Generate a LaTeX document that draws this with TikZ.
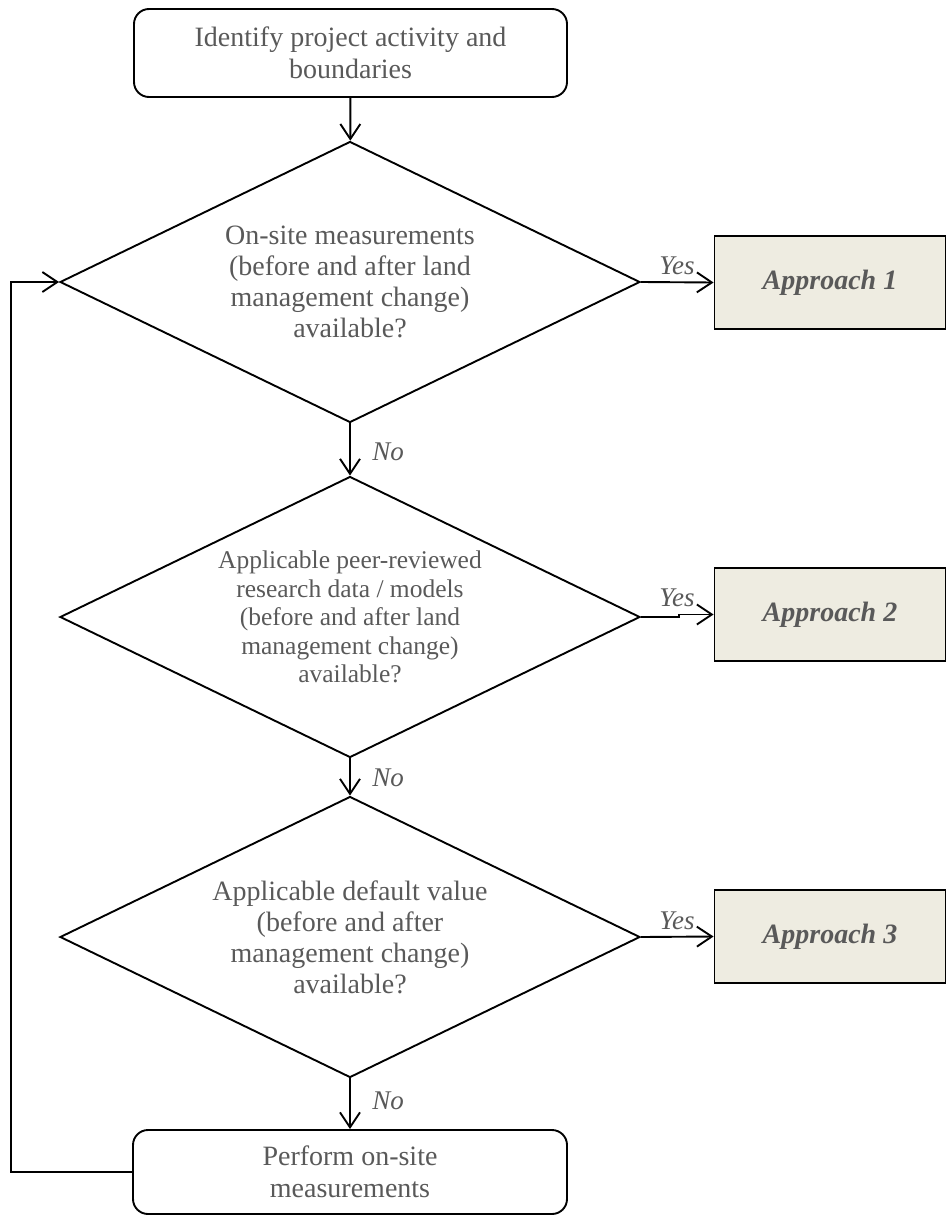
\documentclass[tikz,border=0pt]{standalone}
\usepackage{fontspec}
\setmainfont{Liberation Serif}
\usetikzlibrary{arrows.meta,shapes.geometric,calc}
\definecolor{txtgray}{RGB}{89,89,89}
\definecolor{apfill}{RGB}{238,236,225}
\tikzset{
  line/.style={line width=1.9pt, draw=black},
  arr/.style={line, -{Straight Barb[length=15pt,width=20pt,line width=1.9pt]}},
  roundbox/.style={line, rounded corners=15pt, text=txtgray, align=center, inner sep=0pt,
    font=\fontsize{28}{32}\selectfont},
  decision/.style={line, diamond, aspect=2.07, inner sep=0pt, text=txtgray, align=center,
    minimum width=580pt, minimum height=281pt},
  approach/.style={line, fill=apfill, text=txtgray, inner sep=0pt,
    font=\fontsize{28}{32}\selectfont\bfseries\itshape},
  lbl/.style={text=txtgray, inner sep=0pt, font=\fontsize{27}{30}\selectfont\itshape}
}
\begin{document}
\begin{tikzpicture}[x=1pt,y=-1pt]
\useasboundingbox (0,0) rectangle (947,1217);
% start box
\node[roundbox, minimum width=433pt, minimum height=88pt] (start) at (350.5,53) {Identify project activity and\\boundaries};
% decisions
\node[decision, font=\fontsize{28}{31}\selectfont] (d1) at (350,282) {On-site measurements\\(before and after land\\management change)\\available?};
\node[decision, font=\fontsize{25.5}{28.5}\selectfont] (d2) at (350,617) {Applicable peer-reviewed\\research data / models\\(before and after land\\management change)\\available?};
\node[decision, font=\fontsize{28}{31}\selectfont] (d3) at (350,937) {Applicable default value\\(before and after\\management change)\\available?};
% end box
\node[roundbox, minimum width=434pt, minimum height=84pt] (perf) at (350,1172) {Perform on-site\\measurements};
% approaches
\node[approach, minimum width=231pt, minimum height=93pt] (a1) at (830,282.5) {Approach 1};
\node[approach, minimum width=231pt, minimum height=93pt] (a2) at (830,614.5) {Approach 2};
\node[approach, minimum width=231pt, minimum height=93pt] (a3) at (830,936.5) {Approach 3};
% vertical flow
\draw[arr] (start) -- (d1);
\draw[arr] (d1) -- (d2);
\draw[arr] (d2) -- (d3);
\draw[arr] (d3) -- (perf);
% yes arrows
\draw[arr] (d1.east) -- (a1.west);
\draw[arr] (d2.east) -- ++(38,0) |- (a2.west);
\draw[arr] (d3.east) -- (a3.west);
% loop back
\draw[arr] (perf.west) -- ++(-121,0) |- (d1.west);
% labels
\node[lbl] (y1) at (677,266) {Yes};
\node[lbl] (y2) at (677,598) {Yes};
\node[lbl] (y3) at (677,921) {Yes};
\node[lbl] (n1) at (388,452) {No};
\node[lbl] (n2) at (388,778) {No};
\node[lbl] (n3) at (388,1101) {No};
\end{tikzpicture}
\end{document}
